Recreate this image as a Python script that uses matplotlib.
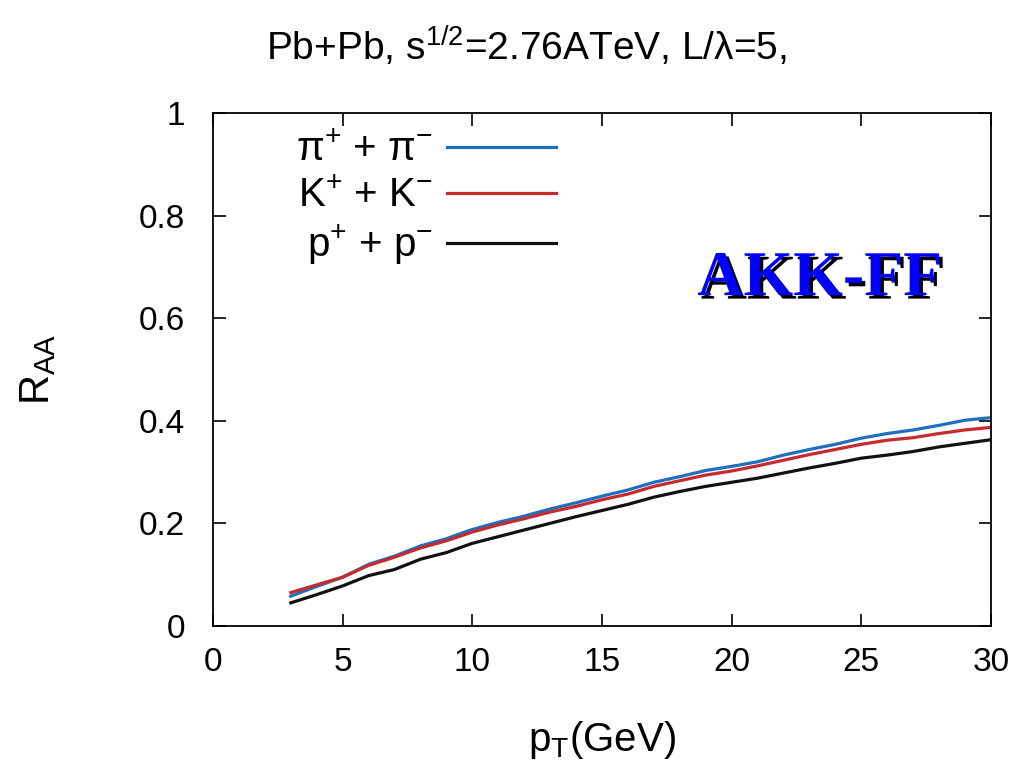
import numpy as np
import matplotlib
matplotlib.use("Agg")
import matplotlib.pyplot as plt
import matplotlib.patheffects as pe

plt.rcParams["font.family"] = ["Liberation Sans", "DejaVu Sans"]
plt.rcParams["mathtext.fontset"] = "custom"
plt.rcParams["mathtext.rm"] = "Liberation Sans"
plt.rcParams["mathtext.it"] = "Liberation Sans:italic"
plt.rcParams["mathtext.default"] = "regular"

# pT (GeV) sampled along the curves
pt = [3, 4, 5, 6, 7, 8, 9, 10, 11, 12, 13, 14, 15, 16, 17, 18, 19, 20,
      21, 22, 23, 24, 25, 26, 27, 28, 29, 30]
raaPion = [0.058, 0.077, 0.095, 0.120, 0.136, 0.156, 0.170, 0.188, 0.202, 0.214,
           0.228, 0.240, 0.253, 0.265, 0.280, 0.291, 0.303, 0.311, 0.320, 0.333,
           0.344, 0.354, 0.366, 0.375, 0.382, 0.391, 0.401, 0.406]
raaKaon = [0.065, 0.080, 0.095, 0.118, 0.134, 0.152, 0.166, 0.183, 0.197, 0.209,
           0.222, 0.233, 0.246, 0.257, 0.272, 0.283, 0.294, 0.302, 0.312, 0.323,
           0.334, 0.344, 0.354, 0.362, 0.367, 0.375, 0.382, 0.387]
raaProton = [0.045, 0.061, 0.078, 0.098, 0.110, 0.130, 0.143, 0.161, 0.174, 0.187,
             0.200, 0.213, 0.225, 0.237, 0.251, 0.262, 0.272, 0.280, 0.288, 0.298,
             0.308, 0.317, 0.327, 0.333, 0.340, 0.349, 0.356, 0.363]

fig = plt.figure(figsize=(10.22, 7.68), dpi=100)
ax = fig.add_axes([0.2084, 0.185, 0.7613, 0.668])

lw = 2.3
ax.plot(pt, raaPion, color="#1f6fc0", lw=lw, label=r"$\pi^{+}$ + $\pi^{-}$")
ax.plot(pt, raaKaon, color="#c62a2f", lw=lw, label=r"K$^{+}$ + K$^{-}$")
ax.plot(pt, raaProton, color="#111111", lw=lw, label=r"p$^{+}$ + p$^{-}$")

ax.set_xlim(0, 30)
ax.set_ylim(0, 1)
ax.set_xticks([0, 5, 10, 15, 20, 25, 30])
ax.set_yticks([0, 0.2, 0.4, 0.6, 0.8, 1])
ax.set_yticklabels(["0", "0.2", "0.4", "0.6", "0.8", "1"])
ax.tick_params(direction="in", top=True, right=True, length=9, width=1.2,
               labelsize=24)
ax.tick_params(axis="x", pad=15)
ax.tick_params(axis="y", pad=20)
for s in ax.spines.values():
    s.set_linewidth(1.3)

ax.set_xlabel(r"p$_{T}$(GeV)", fontsize=29, labelpad=30)
ax.set_ylabel(r"R$_{AA}$", fontsize=30, labelpad=58)

fig.text(0.515, 0.94, r"Pb+Pb, s$^{1/2}$=2.76ATeV, L/$\lambda$=5,", fontsize=28,
         ha="center", va="center")

leg = ax.legend(loc="upper left", bbox_to_anchor=(0.06, 1.036), frameon=False,
                markerfirst=False, fontsize=29, handlelength=2.7,
                handletextpad=0.35, labelspacing=0.2)
for t in leg.get_texts():
    t.set_ha("right")

ax.text(0.78, 0.674, "AKK-FF", transform=ax.transAxes, ha="center", va="center",
        fontsize=46, fontweight="bold", family="Liberation Serif", color="#0000ff",
        path_effects=[pe.SimplePatchShadow(offset=(2.5, -2.5), shadow_rgbFace="black",
                                           alpha=1.0), pe.Normal()])

fig.savefig("out.png", dpi=100)
